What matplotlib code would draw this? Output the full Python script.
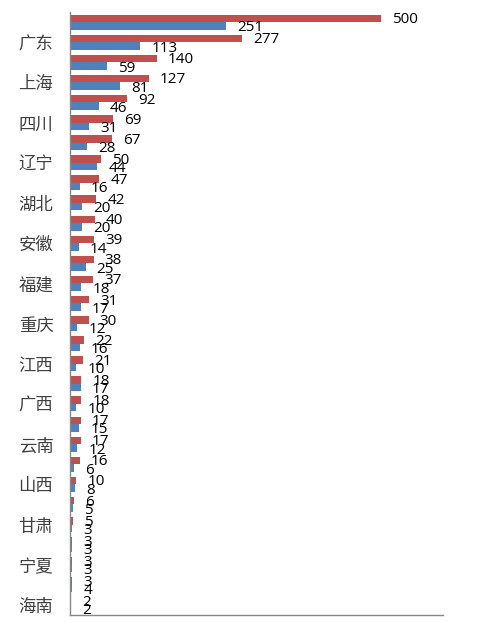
import numpy as np
import matplotlib
matplotlib.use("Agg")
import matplotlib.pyplot as plt

plt.rcParams['font.family'] = ['Noto Sans CJK SC', 'DejaVu Sans']

# only every other row has a visible label on the axis
provinces = ['广东', '上海', '四川', '辽宁', '湖北', '安徽', '福建', '重庆',
             '江西', '广西', '云南', '山西', '甘肃', '宁夏', '海南']

# 30 rows, top to bottom
red_vals = [500, 277, 140, 127, 92, 69, 67, 50, 47, 42, 40, 39, 38, 37, 31,
            30, 22, 21, 18, 18, 17, 17, 16, 10, 6, 5, 3, 3, 3, 2]
blue_vals = [251, 113, 59, 81, 46, 31, 28, 44, 16, 20, 20, 14, 25, 18, 17,
             12, 16, 10, 17, 10, 15, 12, 6, 8, 5, 3, 3, 3, 4, 2]

red = '#C0504D'
blue = '#4F81BD'

fig = plt.figure(figsize=(4.89, 6.22), dpi=100)
ax = fig.add_axes([70 / 489, 1 - 615 / 622, 373 / 489, 603 / 622])

n = len(red_vals)
y = np.arange(n)
h = 0.375
ax.barh(y - h / 2, red_vals, height=h, color=red)
ax.barh(y + h / 2, blue_vals, height=h, color=blue)

lbl_font = ['Open Sans', 'DejaVu Sans']
for i in range(n):
    ax.annotate(str(red_vals[i]), (red_vals[i], y[i] - h / 2), xytext=(8, -1),
                textcoords='offset points', va='center', ha='left',
                fontsize=11, family=lbl_font, color='black')
    ax.annotate(str(blue_vals[i]), (blue_vals[i], y[i] + h / 2), xytext=(8, -1.5),
                textcoords='offset points', va='center', ha='left',
                fontsize=11, family=lbl_font, color='black')

ax.set_xlim(0, 600)
ax.set_ylim(n - 0.5, -0.5)
ax.set_yticks(y[1::2])
ax.set_yticklabels(provinces, fontsize=12.5, color='#404040')
ax.set_xticks([])
ax.tick_params(axis='y', length=0, pad=12)

for s in ['top', 'right']:
    ax.spines[s].set_visible(False)
for s in ['left', 'bottom']:
    ax.spines[s].set_color('#888888')
    ax.spines[s].set_linewidth(1)

fig.savefig('out.png', dpi=100)
